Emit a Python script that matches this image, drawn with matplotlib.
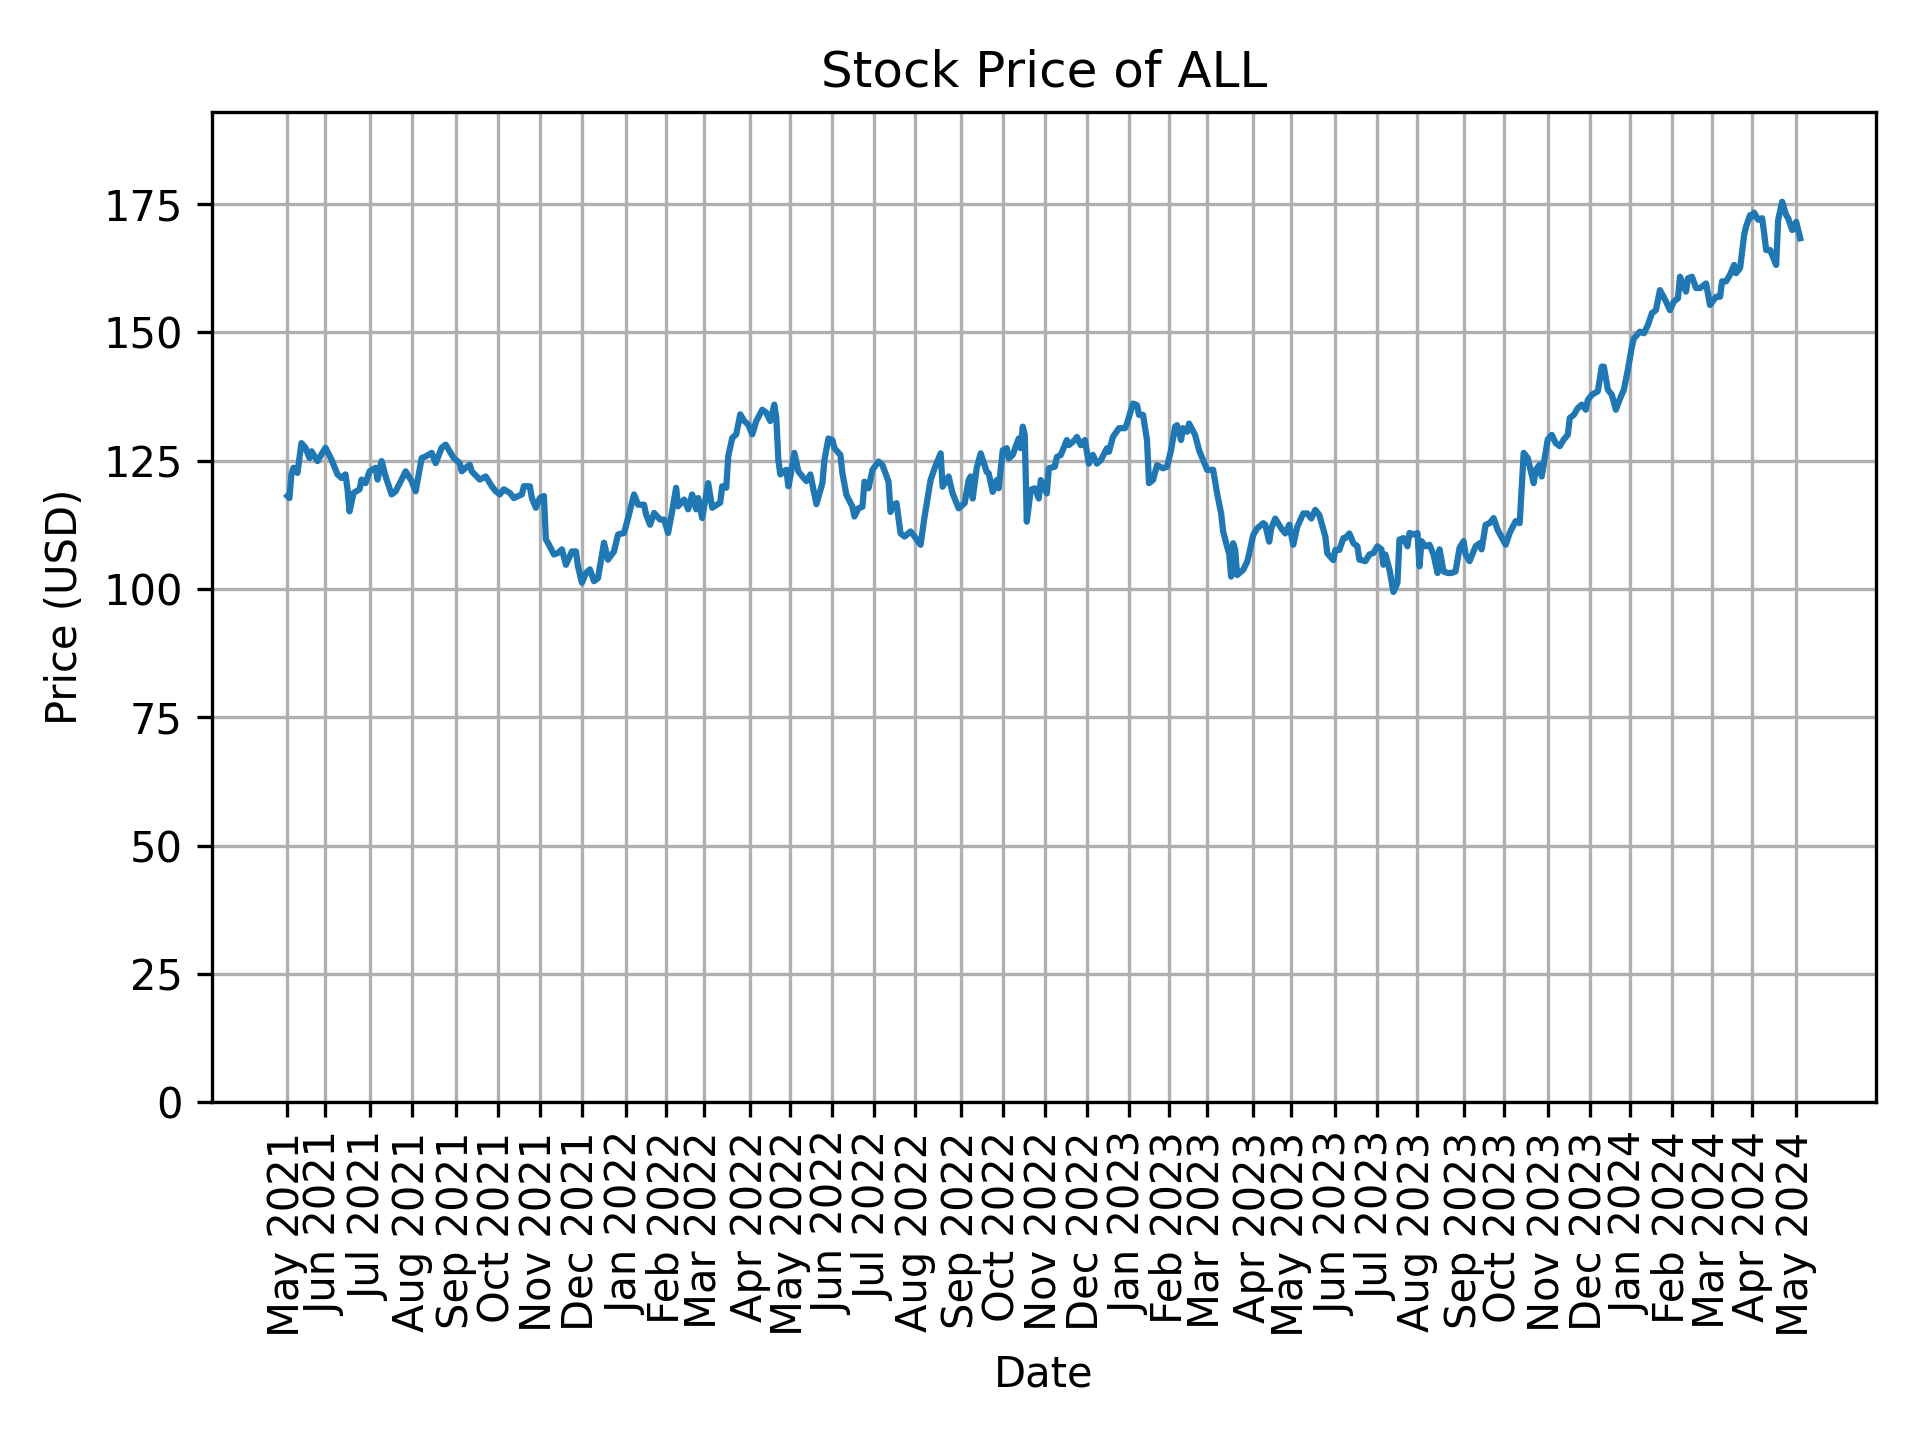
import pandas as pd
import matplotlib
matplotlib.use("Agg")
import matplotlib.pyplot as plt

# days the exchange was shut inside the window
holidays = ["2021-05-31", "2021-07-05", "2021-09-06", "2021-11-25", "2021-12-24",
            "2022-01-17", "2022-02-21", "2022-04-15", "2022-05-30", "2022-06-20",
            "2022-07-04", "2022-09-05", "2022-11-24", "2022-12-26",
            "2023-01-02", "2023-01-16", "2023-02-20", "2023-04-07", "2023-05-29",
            "2023-06-19", "2023-07-04", "2023-09-04", "2023-11-23", "2023-12-25",
            "2024-01-01", "2024-01-15", "2024-02-19", "2024-03-29"]

# trading day number (from 2021-05-04) and close price
trade_idx = [0, 1, 2, 3, 5, 7, 9, 11, 12, 15, 19, 22, 25, 27, 29, 30, 31, 33, 36, 37,
             39, 41, 44, 45, 47, 49, 52, 54, 57, 59, 62, 64, 67, 69, 72, 74, 77, 79, 81, 83,
             86, 87, 89, 91, 92, 96, 99, 102, 104, 106, 108, 111, 113, 117, 118, 121, 122, 124, 126, 128,
             129, 130, 133, 135, 137, 139, 142, 144, 145, 147, 149, 151, 153, 155, 158, 160, 163, 165, 168, 170,
             173, 175, 178, 179, 181, 183, 186, 188, 190, 192, 194, 195, 198, 200, 202, 204, 205, 207, 208, 210,
             212, 216, 217, 219, 220, 222, 224, 226, 228, 230, 232, 234, 237, 239, 241, 243, 244, 245, 246, 249,
             250, 251, 253, 255, 257, 259, 261, 264, 267, 268, 270, 272, 273, 276, 277, 279, 282, 283, 285, 287,
             288, 290, 292, 295, 297, 300, 301, 302, 304, 306, 308, 311, 313, 316, 318, 321, 323, 326, 327, 330,
             332, 335, 338, 340, 341, 342, 344, 346, 349, 350, 352, 354, 355, 357, 359, 360, 362, 364, 365, 366,
             367, 368, 369, 371, 373, 375, 376, 379, 380, 383, 384, 386, 389, 390, 393, 394, 396, 398, 400, 402,
             404, 406, 409, 410, 412, 415, 418, 419, 422, 424, 425, 427, 429, 430, 432, 434, 437, 439, 441, 443,
             444, 446, 447, 449, 450, 453, 455, 457, 459, 462, 464, 466, 467, 469, 470, 471, 472, 473, 474, 477,
             479, 480, 482, 484, 487, 488, 490, 491, 493, 496, 498, 500, 502, 504, 507, 509, 511, 513, 515, 518,
             519, 522, 523, 525, 527, 528, 530, 532, 534, 535, 538, 540, 542, 544, 546, 547, 548, 550, 552, 554,
             555, 557, 559, 560, 562, 564, 565, 566, 568, 570, 572, 574, 575, 577, 579, 581, 583, 585, 587, 588,
             590, 593, 595, 596, 598, 600, 602, 604, 608, 610, 613, 615, 617, 619, 622, 623, 625, 626, 629, 631,
             633, 635, 637, 639, 640, 642, 644, 646, 648, 649, 651, 654, 656, 657, 659, 661, 663, 665, 667, 669,
             671, 672, 675, 677, 679, 681, 683, 685, 688, 690, 692, 694, 695, 698, 699, 701, 703, 705, 708, 710,
             713, 715, 716, 718, 720, 722, 723, 725, 727, 728, 730, 731, 732, 734, 736, 737, 738, 740, 743, 744,
             746, 748, 749, 751, 753, 755]

close = [118.1, 117.7, 122.3, 123.6, 122.6, 128.4, 127.5, 125.5, 126.8, 124.9, 127.5, 125.2, 122.3, 121.6, 122.3, 119.4, 115.1, 118.7, 119.4, 121.3,
         120.6, 122.9, 123.6, 121.3, 124.9, 121.9, 118.4, 119.0, 121.3, 122.9, 121.0, 119.0, 125.5, 125.8, 126.5, 124.5, 127.5, 128.1, 126.8, 125.5,
         124.5, 122.9, 123.6, 124.2, 122.9, 121.3, 121.9, 120.0, 119.0, 118.4, 119.4, 118.7, 117.7, 118.4, 120.0, 120.0, 117.7, 115.8, 117.7, 118.1,
         109.6, 109.0, 106.7, 107.0, 107.7, 104.7, 107.3, 107.3, 104.4, 101.2, 103.1, 103.8, 101.5, 102.1, 109.0, 105.7, 107.3, 110.6, 110.9, 113.8,
         118.4, 116.4, 116.4, 114.5, 112.5, 114.8, 113.5, 113.5, 110.9, 115.1, 119.7, 116.1, 117.4, 115.5, 118.4, 115.5, 117.7, 113.8, 116.1, 120.6,
         115.8, 116.8, 120.0, 119.7, 125.8, 129.4, 130.1, 134.0, 132.7, 132.0, 130.1, 132.7, 134.9, 134.3, 132.7, 135.9, 133.3, 125.2, 122.3, 123.2,
         120.0, 121.9, 126.5, 122.9, 121.9, 121.0, 122.3, 116.5, 120.6, 125.1, 129.3, 129.0, 127.4, 126.1, 122.5, 118.3, 116.0, 114.1, 115.7, 116.0,
         120.9, 119.6, 123.2, 124.8, 124.1, 120.9, 115.0, 116.3, 116.7, 110.8, 110.2, 111.2, 110.2, 108.6, 114.1, 121.2, 123.5, 126.4, 119.9, 121.9,
         118.6, 115.7, 116.7, 121.2, 121.9, 117.6, 123.5, 126.4, 122.8, 122.5, 118.9, 121.2, 119.6, 127.0, 127.4, 125.4, 126.1, 128.3, 129.3, 127.4,
         131.6, 130.0, 113.1, 119.3, 119.6, 117.6, 121.2, 118.6, 123.5, 123.8, 125.7, 126.1, 129.0, 128.0, 129.0, 129.6, 128.0, 129.0, 124.4, 126.1,
         124.4, 125.1, 127.4, 126.7, 129.6, 131.3, 131.3, 132.2, 136.1, 135.8, 133.9, 133.9, 129.0, 120.6, 121.2, 124.1, 123.5, 123.8, 127.0, 131.6,
         131.9, 129.0, 131.3, 130.6, 132.2, 130.0, 127.0, 125.1, 123.2, 123.2, 118.6, 114.7, 111.2, 108.2, 106.9, 102.4, 108.9, 107.6, 102.7, 103.7,
         105.3, 106.9, 110.5, 111.8, 112.8, 112.5, 109.2, 111.8, 113.7, 111.8, 110.8, 112.5, 108.6, 112.1, 114.7, 114.7, 113.7, 115.4, 114.4, 110.2,
         106.9, 105.6, 107.6, 107.6, 109.9, 109.9, 110.8, 108.9, 108.3, 105.7, 105.4, 106.7, 107.0, 108.3, 107.7, 104.7, 106.7, 103.8, 99.4, 101.2,
         109.6, 109.9, 108.3, 110.9, 110.6, 110.9, 104.4, 109.3, 108.3, 108.6, 106.7, 103.1, 107.7, 103.4, 103.1, 103.1, 103.4, 108.0, 109.3, 106.7,
         105.4, 108.3, 108.9, 107.7, 112.5, 112.8, 113.8, 111.5, 108.6, 110.9, 113.2, 112.8, 126.5, 125.5, 120.6, 123.2, 124.2, 121.9, 129.1, 130.0,
         128.4, 127.8, 129.1, 130.0, 133.3, 133.9, 135.2, 135.9, 134.9, 136.8, 137.8, 138.5, 143.3, 143.3, 138.8, 137.8, 134.9, 137.0, 138.8, 142.7,
         147.2, 148.8, 150.1, 149.8, 151.4, 153.7, 154.3, 158.2, 156.0, 154.3, 156.0, 156.6, 160.8, 157.9, 160.5, 160.8, 158.6, 158.6, 159.5, 155.3,
         156.9, 156.9, 159.9, 159.9, 161.2, 163.1, 161.5, 162.5, 168.9, 170.6, 172.8, 172.5, 173.3, 171.9, 172.2, 169.3, 166.0, 166.0, 163.1, 171.9,
         175.4, 172.8, 172.2, 169.9, 171.5, 168.3]

days = pd.bdate_range("2021-05-04", "2024-05-03", freq="C", holidays=holidays)

# first trading day of every month gets a tick
pos = pd.Series(range(len(days)), index=days)
first = pos.groupby([days.year, days.month]).first().values
labels = days[first].strftime("%b %Y")

plt.figure(figsize=(6.4, 4.8), dpi=300)
plt.plot(trade_idx, close)
plt.title("Stock Price of ALL")
plt.xlabel("Date")
plt.ylabel("Price (USD)")
plt.xticks(first, labels, rotation=90)
plt.ylim(0, max(close) * 1.1)
plt.grid(True)
plt.subplots_adjust(left=0.1103, right=0.977, top=0.9224, bottom=0.2345)
plt.savefig("out.png", dpi=300)
